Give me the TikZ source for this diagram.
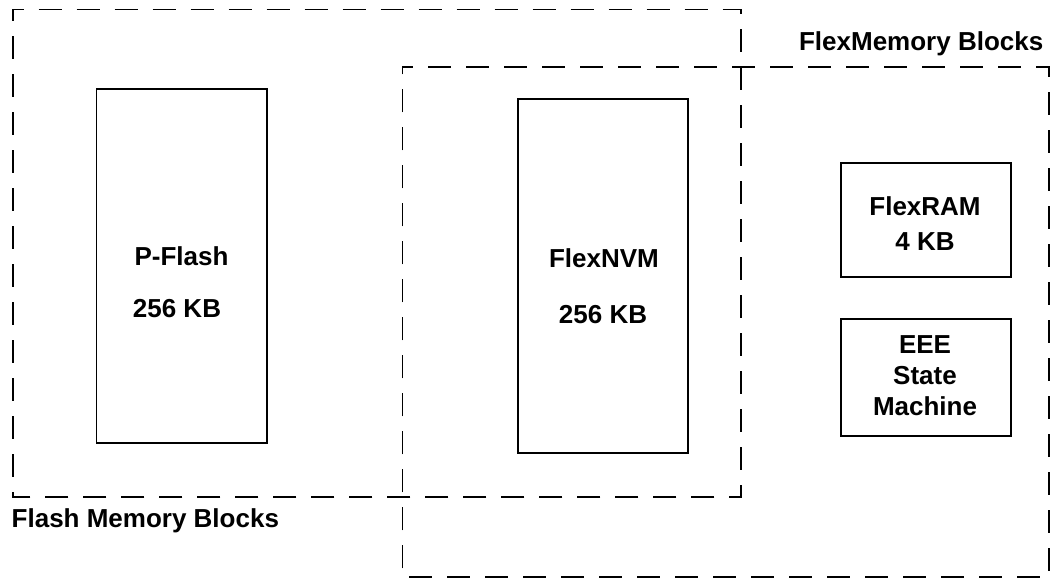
\documentclass[tikz,border=0pt]{standalone}
\usepackage{fontspec}
\setmainfont{Liberation Sans}
\begin{document}
\begin{tikzpicture}[x=1pt,y=-1pt,
  blockbox/.style={draw=black,line width=1.8pt,inner sep=0pt},
  groupbox/.style={draw=black,line width=1.6pt,dash pattern=on 23pt off 15pt,dash phase=12pt},
  lbl/.style={font=\fontsize{26}{30}\selectfont\bfseries,inner sep=0pt,anchor=base}]
\useasboundingbox (0,0) rectangle (1051,579);
% group regions
\draw[groupbox] (12.7,9.3) -- (740.7,9.3) -- (740.7,497) -- (12.7,497) -- cycle;
\draw[groupbox] (402.3,67) -- (1049,67) -- (1049,577) -- (402.3,577) -- cycle;
% blocks
\node[blockbox,minimum width=170.5pt,minimum height=354pt] (pflash) at (181.8,266) {};
\node[blockbox,minimum width=170pt,minimum height=354pt] (nvm) at (603,275.8) {};
\node[blockbox,minimum width=170pt,minimum height=113.4pt] (ram) at (926,220) {};
\node[blockbox,minimum width=170pt,minimum height=116.4pt] (eee) at (926,377.5) {};
% texts
\node[lbl] (t1) at (181.5,265) {P-Flash};
\node[lbl] (t2) at (177,317) {256 KB};
\node[lbl] (t3) at (604,267) {FlexNVM};
\node[lbl] (t4) at (603,323) {256 KB};
\node[lbl] (t5) at (925,215) {FlexRAM};
\node[lbl] (t6) at (925,250) {4 KB};
\node[lbl] (t7) at (925,353) {EEE};
\node[lbl] (t8) at (925,384) {State};
\node[lbl] (t9) at (925,415) {Machine};
\node[lbl,anchor=base east] (g2) at (1043.5,50) {FlexMemory Blocks};
\node[lbl,anchor=base west] (g1) at (11.5,527) {Flash Memory Blocks};
\end{tikzpicture}
\end{document}
